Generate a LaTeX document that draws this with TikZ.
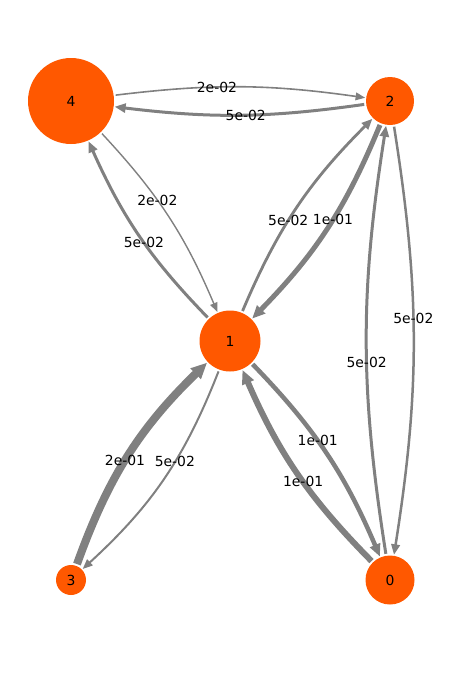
\documentclass[tikz,border=0pt]{standalone}
\usepackage{fontspec}
\setmainfont{DejaVu Sans}
\usetikzlibrary{arrows.meta}
\definecolor{nodeorange}{RGB}{255,88,0}
\definecolor{edgegray}{RGB}{128,128,128}
\begin{document}
\begin{tikzpicture}[x=1pt,y=-1pt,
  vtx/.style={circle, fill=nodeorange, inner sep=0pt, outer sep=1pt, minimum size=#1, font=\fontsize{13.9}{16}\selectfont},
  edg/.style={draw=edgegray, line width=#1, -{Triangle[length=8pt 1, width=6pt 1]}, shorten <=1pt},
  lab/.style={inner sep=1pt, font=\fontsize{13.9}{16}\selectfont}]
\useasboundingbox (0,0) rectangle (460,683);
% nodes
\node[vtx=86pt] (n4) at (71,101) {4};
\node[vtx=48pt] (n2) at (390,101) {2};
\node[vtx=61pt] (n1) at (230,341) {1};
\node[vtx=30pt] (n3) at (71,580) {3};
\node[vtx=49pt] (n0) at (390,580) {0};
% edges
\draw[edg=1.6pt] (n4) to[bend left=7.5] (n2);
\draw[edg=3pt]   (n2) to[bend left=7.5] (n4);
\draw[edg=1.4pt] (n4) to[bend left=10] (n1);
\draw[edg=3pt]   (n1) to[bend left=10] (n4);
\draw[edg=2.8pt] (n1) to[bend left=11] (n2);
\draw[edg=5pt]   (n2) to[bend left=11] (n1);
\draw[edg=2.5pt] (n2) to[bend left=9] (n0);
\draw[edg=3pt]   (n0) to[bend left=9] (n2);
\draw[edg=4.5pt] (n1) to[bend left=10.5] (n0);
\draw[edg=6pt]   (n0) to[bend left=10.5] (n1);
\draw[edg=8pt]   (n3) to[bend left=13] (n1);
\draw[edg=2pt]   (n1) to[bend left=13] (n3);
% labels
\path (n4) to[bend left=7.5] node[lab,pos=0.40] {2e-02} (n2);
\path (n2) to[bend left=7.5] node[lab,pos=0.475] {5e-02} (n4);
\path (n4) to[bend left=10] node[lab,pos=0.40] {2e-02} (n1);
\path (n1) to[bend left=10] node[lab,pos=0.46] {5e-02} (n4);
\path (n1) to[bend left=11] node[lab,pos=0.43] {5e-02} (n2);
\path (n2) to[bend left=11] node[lab,pos=0.45] {1e-01} (n1);
\path (n2) to[bend left=9] node[lab,pos=0.445] {5e-02} (n0);
\path (n0) to[bend left=9] node[lab,pos=0.445] {5e-02} (n2);
\path (n1) to[bend left=10.5] node[lab,pos=0.43] {1e-01} (n0);
\path (n0) to[bend left=10.5] node[lab,pos=0.45] {1e-01} (n1);
\path (n3) to[bend left=13] node[lab,pos=0.47] {2e-01} (n1);
\path (n1) to[bend left=13] node[lab,pos=0.41] {5e-02} (n3);
\end{tikzpicture}
\end{document}
